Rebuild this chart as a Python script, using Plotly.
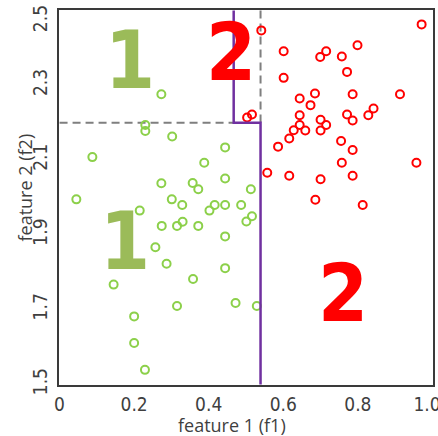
import plotly.graph_objects as go

# ---- data ----
class1_f1 = [0.273, 0.230, 0.230, 0.302, 0.088, 0.444, 0.388, 0.273, 0.357, 0.372,
             0.444, 0.513, 0.045, 0.301, 0.329, 0.215, 0.402, 0.416, 0.444, 0.487,
             0.501, 0.516, 0.274, 0.315, 0.330, 0.372, 0.444, 0.257, 0.287, 0.444,
             0.358, 0.145, 0.315, 0.472, 0.529, 0.200, 0.200, 0.229]
class1_f2 = [2.276, 2.194, 2.178, 2.163, 2.108, 2.134, 2.093, 2.038, 2.039, 2.022,
             2.051, 2.022, 1.995, 1.995, 1.980, 1.965, 1.965, 1.980, 1.980, 1.980,
             1.936, 1.950, 1.924, 1.924, 1.935, 1.924, 1.896, 1.867, 1.823, 1.811,
             1.782, 1.767, 1.710, 1.718, 1.710, 1.682, 1.611, 1.539]

class2_f1 = [0.541, 0.971, 0.601, 0.699, 0.715, 0.757, 0.799, 0.601, 0.771, 0.685,
             0.644, 0.673, 0.786, 0.913, 0.842, 0.828, 0.644, 0.700, 0.771, 0.786,
             0.644, 0.628, 0.659, 0.715, 0.700, 0.616, 0.586, 0.755, 0.786, 0.757,
             0.957, 0.557, 0.616, 0.700, 0.786, 0.686, 0.813, 0.503, 0.516]
class2_f2 = [2.447, 2.463, 2.391, 2.376, 2.391, 2.377, 2.407, 2.320, 2.336, 2.278,
             2.265, 2.247, 2.276, 2.276, 2.238, 2.220, 2.220, 2.208, 2.222, 2.206,
             2.194, 2.180, 2.179, 2.194, 2.179, 2.158, 2.136, 2.151, 2.127, 2.093,
             2.093, 2.066, 2.058, 2.049, 2.058, 1.994, 1.980, 2.214, 2.222]

# decision boundaries
split_f2 = 2.2
split_f1_upper = 0.467
split_f1_lower = 0.539

NB = "\u00a0"
x_ticks = [0, 0.2, 0.4, 0.6, 0.8, 1.0]
x_ticktext = ["0", "0.2", "0.4", "0.6", "0.8", "1.0" + NB * 2]
y_ticks = [1.5, 1.7, 1.9, 2.1, 2.3, 2.5]
y_ticktext = ["1.5", "1.7", "1.9", "2.1", "2.3", "2.5" + NB * 4]

x_title = "feature 1 (f1)"
y_title = "feature 2 (f2)"

region_labels = ["1", "1", "2", "2"]
region_f1 = [0.190, 0.176, 0.460, 0.759]
region_f2 = [2.367, 1.883, 2.388, 1.743]
region_colors = ["#9BBB59", "#9BBB59", "#FF0000", "#FF0000"]

X_MIN, X_MAX = 0.0, 1.0
Y_MIN, Y_MAX = 1.5, 2.5
EPS = 0.0015

GREEN_PT = "#8CD04A"
RED_PT = "#FF0000"
PURPLE = "#7030A0"
DASH_GRAY = "#7F7F7F"
TEXT_COL = "#3F3F3F"
FONT = "Liberation Sans Narrow, DejaVu Sans Condensed, Liberation Sans, Arial, sans-serif"
TFONT = "Open Sans, Liberation Sans, sans-serif"

fig = go.Figure()

# dashed guide lines
fig.add_trace(go.Scatter(x=[X_MIN, split_f1_upper], y=[split_f2, split_f2], mode="lines",
                         line=dict(color=DASH_GRAY, width=2, dash="8px,5px"),
                         hoverinfo="skip", showlegend=False))
fig.add_trace(go.Scatter(x=[split_f1_lower, split_f1_lower], y=[Y_MAX, split_f2], mode="lines",
                         line=dict(color=DASH_GRAY, width=2, dash="8px,5px"),
                         hoverinfo="skip", showlegend=False))

# points
fig.add_trace(go.Scatter(x=class1_f1, y=class1_f2, mode="markers", name="1",
                         marker=dict(symbol="circle-open", size=8, color=GREEN_PT,
                                     line=dict(width=2, color=GREEN_PT)),
                         showlegend=False))
fig.add_trace(go.Scatter(x=class2_f1, y=class2_f2, mode="markers", name="2",
                         marker=dict(symbol="circle-open", size=8, color=RED_PT,
                                     line=dict(width=2, color=RED_PT)),
                         showlegend=False))

# purple decision boundary
fig.add_trace(go.Scatter(x=[split_f1_upper, split_f1_upper, split_f1_lower, split_f1_lower],
                         y=[Y_MAX, split_f2, split_f2, Y_MIN], mode="lines",
                         line=dict(color=PURPLE, width=2.5),
                         hoverinfo="skip", showlegend=False))

for t, xv, yv, c in zip(region_labels, region_f1, region_f2, region_colors):
    fig.add_annotation(x=xv, y=yv, xref="x", yref="y", text="<b>%s</b>" % t,
                       showarrow=False, font=dict(family=FONT, size=80, color=c),
                       xanchor="center", yanchor="middle")

# axis titles
fig.add_annotation(x=0.5, y=0, xref="paper", yref="paper", text=x_title,
                   showarrow=False, xanchor="center", yanchor="middle",
                   xshift=-14, yshift=-40,
                   font=dict(family=TFONT, size=18, color=TEXT_COL))
fig.add_annotation(x=0, y=0.5, xref="paper", yref="paper", text=y_title,
                   showarrow=False, xanchor="center", yanchor="middle", textangle=-90,
                   xshift=-35, yshift=10,
                   font=dict(family=TFONT, size=18, color=TEXT_COL))

fig.update_layout(
    width=438, height=436,
    margin=dict(l=59, r=5, t=10, b=51),
    plot_bgcolor="white", paper_bgcolor="white",
    xaxis=dict(range=[X_MIN - EPS, X_MAX + EPS], tickvals=x_ticks, ticktext=x_ticktext,
               automargin=False, ticklabeloverflow="allow",
               showgrid=False, zeroline=False, showline=True, mirror=True,
               linecolor="#3A3A3A", linewidth=2,
               ticks="outside", ticklen=1, tickcolor="rgba(0,0,0,0)",
               tickfont=dict(family=FONT, size=19, color=TEXT_COL)),
    yaxis=dict(range=[Y_MIN - EPS, Y_MAX + EPS], tickvals=y_ticks, ticktext=y_ticktext,
               automargin=False, ticklabeloverflow="allow",
               showgrid=False, zeroline=False, showline=True, mirror=True,
               linecolor="#3A3A3A", linewidth=2,
               ticks="outside", ticklen=2, tickcolor="rgba(0,0,0,0)", tickangle=-90,
               tickfont=dict(family=FONT, size=19, color=TEXT_COL)),
)

fig.write_html("out.html", config={"displayModeBar": False},
               post_script="document.body.style.margin='0';document.body.style.overflow='hidden';")
